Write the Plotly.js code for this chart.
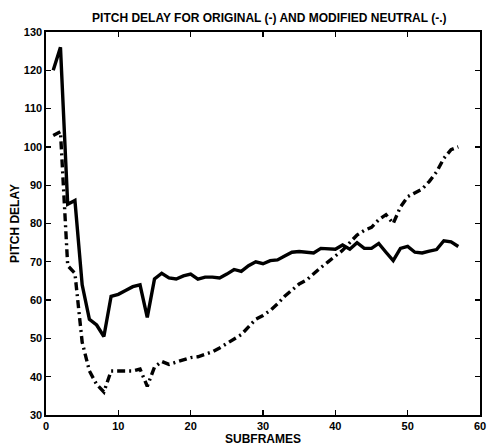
<!DOCTYPE html>
<html>
<head>
<meta charset="utf-8">
<script src="https://cdn.plot.ly/plotly-3.0.1.min.js"></script>
<style>html,body{margin:0;padding:0;background:#fff;}#chart{width:487px;height:446px;}</style>
</head>
<body>
<div id="chart"></div>
<script>
const subframes = [1,2,3,4,5,6,7,8,9,10,11,12,13,14,15,16,17,18,19,20,21,22,23,24,25,26,27,28,29,30,31,32,33,34,35,36,37,38,39,40,41,42,43,44,45,46,47,48,49,50,51,52,53,54,55,56,57];
const originalDelay = [120,126,85,86,64,55,53.5,50.5,61,61.5,62.5,63.5,64,55.5,65.5,67,65.8,65.5,66.3,66.8,65.5,66,66,65.8,66.8,68,67.5,69,70,69.5,70.3,70.5,71.5,72.5,72.7,72.5,72.3,73.5,73.5,73.3,74.4,73.3,75,73.5,73.5,74.8,72.5,70.3,73.5,74,72.5,72.3,72.8,73.2,75.5,75.2,74];
const modifiedDelay = [103,104,69,67,49,41.5,38,36,41.5,41.5,41.3,41.5,42,37.5,42.5,44,43.2,43.8,44.3,45,45.2,45.8,46.5,47.5,48.7,50,51,53,55,56,57.3,59,61,62.6,64.2,65.2,67,68.5,70,71.5,73,75,77,78.2,79,81,82.3,80,84.3,87,88,89,91,93.5,97,99.3,100];
const xTicks = [0,10,20,30,40,50,60];
const yTicks = [30,40,50,60,70,80,90,100,110,120,130];

const fontFam = '"Liberation Sans", Arial, Helvetica, sans-serif';
const traces = [
  {x: subframes, y: originalDelay, type: 'scatter', mode: 'lines', name: 'ORIGINAL',
   line: {color: '#000', width: 3.4, shape: 'linear'}},
  {x: subframes, y: modifiedDelay, type: 'scatter', mode: 'lines', name: 'MODIFIED NEUTRAL',
   line: {color: '#000', width: 3.4, dash: '8px,4px,2px,4px'}}
];
const axisCommon = {
  showgrid: false, zeroline: false, showline: true, linecolor: '#000', linewidth: 1.6,
  ticks: 'inside', ticklen: 5, tickwidth: 1.3, tickcolor: '#000', mirror: 'ticks',
  ticklabeloverflow: 'allow',
  tickfont: {family: fontFam, size: 11, color: '#000', weight: 'bold'}
};
const layout = {
  width: 487, height: 446,
  margin: {l: 46, r: 7, t: 32, b: 31},
  paper_bgcolor: '#fff', plot_bgcolor: '#fff',
  showlegend: false,
  title: {text: 'PITCH DELAY FOR ORIGINAL (-) AND MODIFIED NEUTRAL (-.)',
          font: {family: fontFam, size: 12, color: '#000', weight: 'bold'},
          x: 0.553, xanchor: 'center', y: 0.96, yanchor: 'middle'},
  xaxis: Object.assign({}, axisCommon, {range: [0, 60], tickvals: xTicks, ticktext: xTicks.map(String),
          title: {text: 'SUBFRAMES', font: {family: fontFam, size: 12, color: '#000', weight: 'bold'}, standoff: 16}}),
  yaxis: Object.assign({}, axisCommon, {range: [30, 130], tickvals: yTicks, ticktext: yTicks.map(String),
          title: {text: 'PITCH DELAY', font: {family: fontFam, size: 12, color: '#000', weight: 'bold'}, standoff: 1}})
};
Plotly.newPlot('chart', traces, layout, {staticPlot: true, displayModeBar: false});
</script>
</body>
</html>
